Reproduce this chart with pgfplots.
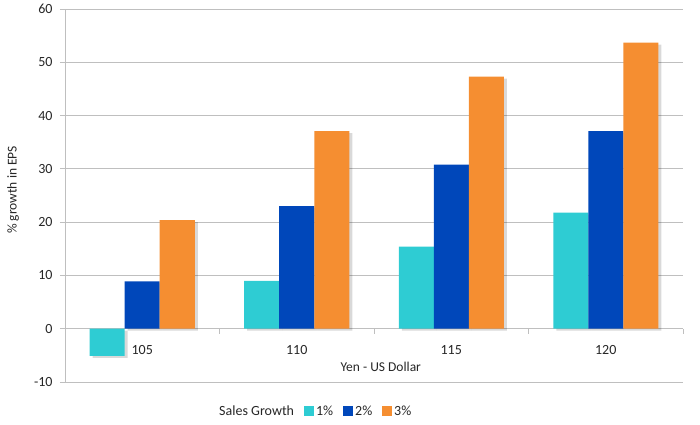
\documentclass[border=0pt]{standalone}
\usepackage{pgfplots}
\pgfplotsset{compat=1.18}
\usepackage{fontspec}
\setmainfont{Carlito}
\usetikzlibrary{shadows}
\definecolor{c1}{HTML}{2ECCD3}
\definecolor{c2}{HTML}{0047BA}
\definecolor{c3}{HTML}{F58E31}
\definecolor{gridc}{HTML}{BFBFBF}
\definecolor{txt}{HTML}{262626}
\begin{document}
\begin{tikzpicture}
\path[use as bounding box] (-65bp,-43bp) rectangle (635bp,382bp);
\begin{axis}[
  scale only axis, width=618bp, height=373bp,
  xmin=-0.5, xmax=3.5, ymin=-10, ymax=60,
  ytick={-10,0,10,20,30,40,50,60},
  axis x line=middle, axis y line=left,
  axis line style={gridc,-,line width=0.8bp},
  hide obscured x ticks=false, hide obscured y ticks=false,
  ymajorgrids, grid style={gridc, line width=0.8bp},
  tick align=outside, major tick length=5bp,
  tick style={gridc, line width=0.8bp},
  xtick={0,1,2,3}, xticklabels={105,110,115,120},
  x tick style={draw=none},
  extra x ticks={0.5,1.5,2.5,3.5}, extra x tick labels={},
  extra x tick style={x tick style={draw=gridc}, grid=none},
  /pgf/number format/assume math mode=true,
  ticklabel style={font=\fontsize{14bp}{16bp}\selectfont, text=txt},
  xticklabel style={yshift=-8bp},
  yticklabel style={xshift=-4bp},
  every axis y label/.style={at={(axis description cs:-0.084,0.515)}, rotate=90, anchor=center, font=\fontsize{13.5bp}{15bp}\selectfont, text=txt},
  every axis x label/.style={at={(axis description cs:0.511,0.040)}, anchor=center, font=\fontsize{13.5bp}{15bp}\selectfont, text=txt},
  ylabel={\% growth in EPS},
  xlabel={Yen - US Dollar},
  ybar=0pt, bar width=35bp,
  legend columns=-1,
  legend style={at={(axis description cs:0.405,-0.078)}, anchor=center, draw=none, fill=none,
    font=\fontsize{14bp}{16bp}\selectfont, text=txt,
    /tikz/every even column/.append style={column sep=8bp}},
  legend image code/.code={\fill[#1] (0bp,-5bp) rectangle (10bp,5bp);},
]
\addlegendimage{empty legend}
\addlegendentry{Sales Growth}
\addlegendimage{fill=c1,draw=none}
\addlegendentry{1\%}
\addlegendimage{fill=c2,draw=none}
\addlegendentry{2\%}
\addlegendimage{fill=c3,draw=none}
\addlegendentry{3\%}
\addplot[forget plot, bar shift=-35bp, fill=c1, draw=none, drop shadow={shadow xshift=3bp, shadow yshift=-2bp, fill=black, opacity=0.15}]
  coordinates {(0,-5.1) (1,9.0) (2,15.4) (3,21.8)};
\addplot[forget plot, bar shift=0bp, fill=c2, draw=none, drop shadow={shadow xshift=3bp, shadow yshift=-2bp, fill=black, opacity=0.15}]
  coordinates {(0,8.9) (1,23.0) (2,30.8) (3,37.1)};
\addplot[forget plot, bar shift=35bp, fill=c3, draw=none, drop shadow={shadow xshift=3bp, shadow yshift=-2bp, fill=black, opacity=0.15}]
  coordinates {(0,20.4) (1,37.1) (2,47.3) (3,53.7)};
\end{axis}
\end{tikzpicture}
\end{document}
